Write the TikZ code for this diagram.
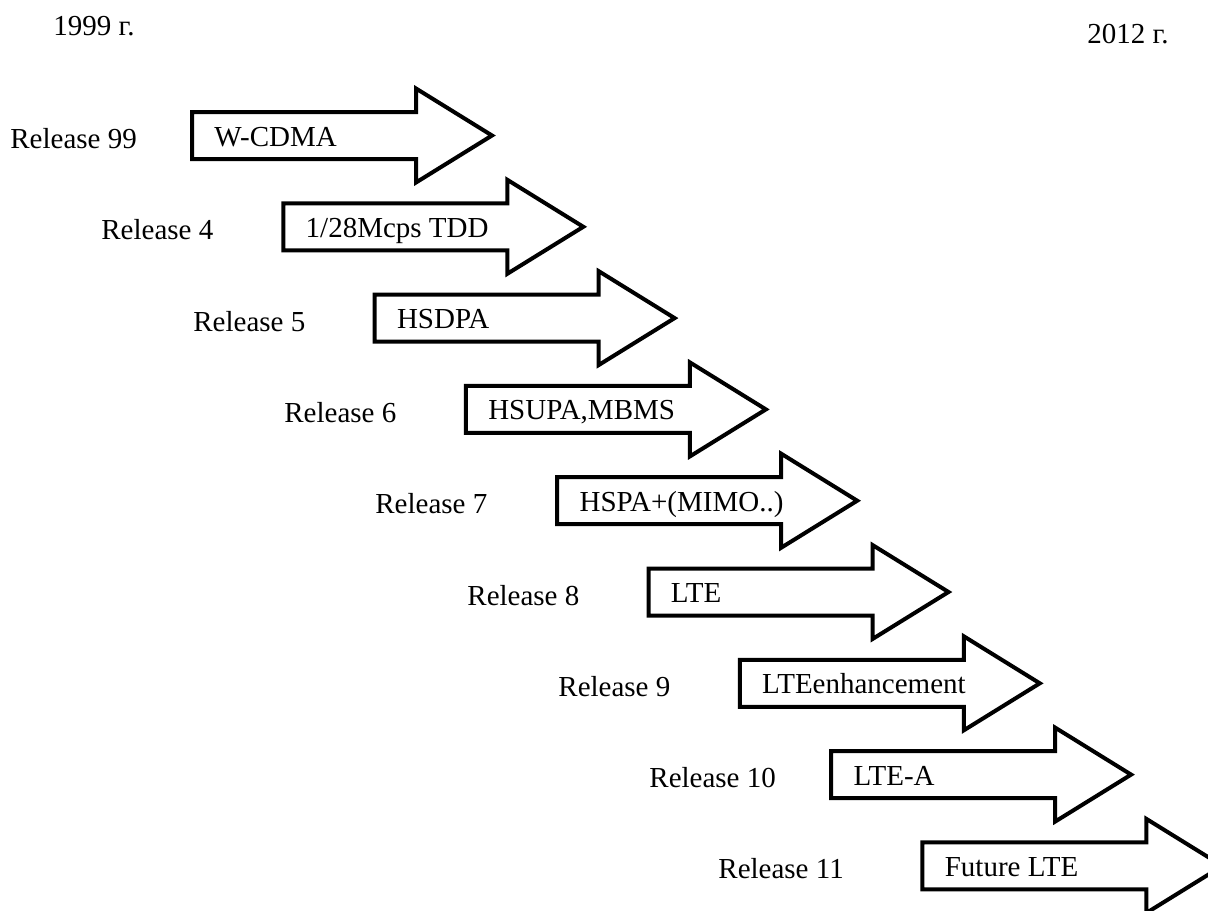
\documentclass[tikz,border=0pt]{standalone}
\usepackage{fontspec}
\setmainfont{Liberation Serif}
\begin{document}
\begin{tikzpicture}[x=0.5pt,y=-0.5pt,
  relarrow/.style={draw=black,line width=2pt,line join=miter,fill=white},
  txt/.style={anchor=base west,inner sep=0pt,font=\fontsize{14.5pt}{17pt}\selectfont},
  ]
\clip (0,0) rectangle (1208,910);
% years at the two ends of the time line
\node[txt] (y1999) at (53,35) {1999 г.};
\node[txt] (y2012) at (1087,43) {2012 г.};
% one block arrow per release, stepping down to the right
\foreach \i/\lx/\rel/\feat in {
    0/10/99/{W-CDMA},
    1/101/4/{1/28Mcps TDD},
    2/193/5/{HSDPA},
    3/284/6/{HSUPA,MBMS},
    4/375/7/{HSPA+(MIMO..)},
    5/467/8/{LTE},
    6/558/9/{LTEenhancement},
    7/649/10/{LTE-A},
    8/718/11/{Future LTE}} {
  \pgfmathsetmacro\sx{192+91.3*\i}
  \pgfmathsetmacro\cy{135.5+91.3*\i}
  \draw[relarrow] (\sx,\cy-23.5) coordinate (tail\i)
    -- ++(224,0) -- ++(0,-23.5) -- ++(76,47) -- ++(-76,47)
    -- ++(0,-23.5) -- ++(-224,0) -- cycle;
  \node[txt] (feat\i) at (\sx+22,\cy+10.5) {\feat};
  \node[txt] (rel\i) at (\lx,\cy+13) {Release \rel};
}
\end{tikzpicture}
\end{document}
